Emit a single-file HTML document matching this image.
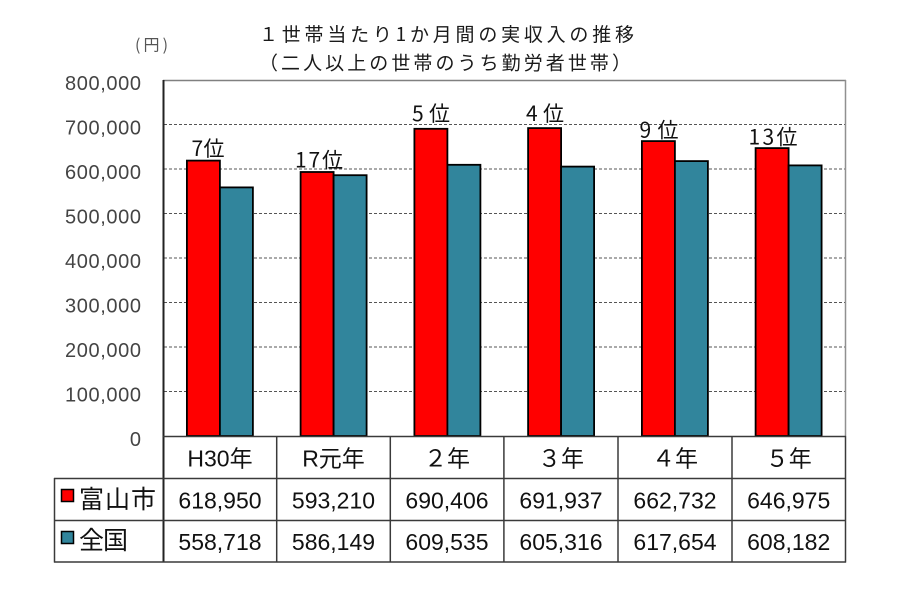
<!DOCTYPE html>
<html><head><meta charset="utf-8"><style>
html,body{margin:0;padding:0;background:#fff;}
svg{display:block;}
text{font-family:"Liberation Sans","Noto Sans CJK JP",sans-serif;}
.cjk{font-family:"Noto Sans CJK JP","Liberation Sans",sans-serif;}
</style></head><body>
<svg width="912" height="602" viewBox="0 0 912 602" xmlns="http://www.w3.org/2000/svg">
<rect width="912" height="602" fill="#fff"/>
<!-- title -->
<text class="cjk" x="259" y="41" font-size="19" fill="#1a1a1a" textLength="375" lengthAdjust="spacing">１世帯当たり1か月間の実収入の推移</text>
<text class="cjk" x="259" y="69.5" font-size="19" fill="#1a1a1a" textLength="372" lengthAdjust="spacing">（二人以上の世帯のうち勤労者世帯）</text>
<text class="cjk" x="135" y="50.5" font-size="16" fill="#555" textLength="33" lengthAdjust="spacing">(円)</text>
<!-- y labels -->
<g font-size="20" fill="#444" text-anchor="end">
<text x="141" y="90" textLength="76" lengthAdjust="spacing">800,000</text>
<text x="141" y="134.5" textLength="76" lengthAdjust="spacing">700,000</text>
<text x="141" y="179" textLength="76" lengthAdjust="spacing">600,000</text>
<text x="141" y="223.5" textLength="76" lengthAdjust="spacing">500,000</text>
<text x="141" y="268" textLength="76" lengthAdjust="spacing">400,000</text>
<text x="141" y="312.5" textLength="76" lengthAdjust="spacing">300,000</text>
<text x="141" y="357" textLength="76" lengthAdjust="spacing">200,000</text>
<text x="141" y="401.5" textLength="76" lengthAdjust="spacing">100,000</text>
<text x="141" y="446">0</text>
</g>
<!-- gridlines -->
<g stroke="#555" stroke-width="1" stroke-dasharray="3,2">
<line x1="164" y1="124.5" x2="845" y2="124.5"/>
<line x1="164" y1="169" x2="845" y2="169"/>
<line x1="164" y1="213.5" x2="845" y2="213.5"/>
<line x1="164" y1="258" x2="845" y2="258"/>
<line x1="164" y1="302.5" x2="845" y2="302.5"/>
<line x1="164" y1="347" x2="845" y2="347"/>
<line x1="164" y1="391.5" x2="845" y2="391.5"/>
</g>
<!-- plot border -->
<line x1="163" y1="80.5" x2="846" y2="80.5" stroke="#808080" stroke-width="1.5"/>
<line x1="845.5" y1="80" x2="845.5" y2="436" stroke="#909090" stroke-width="1.5"/>
<!-- bars -->
<g stroke="#000" stroke-width="1.8">
<rect x="186.9" y="160.6" width="33" height="275.4" fill="#ff0000"/>
<rect x="219.9" y="187.4" width="33" height="248.6" fill="#31859c"/>
<rect x="300.6" y="172.0" width="33" height="264.0" fill="#ff0000"/>
<rect x="333.6" y="175.2" width="33" height="260.8" fill="#31859c"/>
<rect x="414.4" y="128.8" width="33" height="307.2" fill="#ff0000"/>
<rect x="447.4" y="164.8" width="33" height="271.2" fill="#31859c"/>
<rect x="528.1" y="128.1" width="33" height="307.9" fill="#ff0000"/>
<rect x="561.1" y="166.6" width="33" height="269.4" fill="#31859c"/>
<rect x="641.9" y="141.1" width="33" height="294.9" fill="#ff0000"/>
<rect x="674.9" y="161.1" width="33" height="274.9" fill="#31859c"/>
<rect x="755.6" y="148.1" width="33" height="287.9" fill="#ff0000"/>
<rect x="788.6" y="165.4" width="33" height="270.6" fill="#31859c"/>
</g>
<!-- rank labels -->
<g font-size="21" fill="#111" text-anchor="middle">
<text class="cjk" x="208" y="156" textLength="33" lengthAdjust="spacing">7位</text>
<text class="cjk" x="319" y="167.5" textLength="48" lengthAdjust="spacing">17位</text>
<text class="cjk" x="431" y="121" textLength="38" lengthAdjust="spacing">5位</text>
<text class="cjk" x="545" y="121" textLength="38" lengthAdjust="spacing">4位</text>
<text class="cjk" x="659" y="137.5" textLength="39" lengthAdjust="spacing">9位</text>
<text class="cjk" x="773" y="144.5" textLength="49" lengthAdjust="spacing">13位</text>
</g>
<!-- axis -->
<line x1="163.5" y1="80" x2="163.5" y2="562" stroke="#222" stroke-width="2"/>
<!-- table grid -->
<g stroke="#3a3a3a" stroke-width="1.5" fill="none">
<line x1="163" y1="436.5" x2="846" y2="436.5"/>
<line x1="54" y1="478.5" x2="846" y2="478.5"/>
<line x1="54" y1="520.5" x2="846" y2="520.5"/>
<line x1="54" y1="562" x2="846" y2="562"/>
<line x1="54.5" y1="478" x2="54.5" y2="562.5"/>
<line x1="276.7" y1="436" x2="276.7" y2="562.5"/>
<line x1="390.3" y1="436" x2="390.3" y2="562.5"/>
<line x1="503.9" y1="436" x2="503.9" y2="562.5"/>
<line x1="618" y1="436" x2="618" y2="562.5"/>
<line x1="732" y1="436" x2="732" y2="562.5"/>
<line x1="845.5" y1="436" x2="845.5" y2="562.5"/>
</g>
<!-- header -->
<g font-size="23" fill="#111" text-anchor="middle">
<text x="220" y="466.5">H30年</text>
<text x="333.5" y="466.5">R元年</text>
<text x="447" y="466.5">２年</text>
<text x="561" y="466.5">３年</text>
<text x="675" y="466.5">４年</text>
<text x="788.7" y="466.5">５年</text>
<text x="220" y="508.5">618,950</text>
<text x="333.5" y="508.5">593,210</text>
<text x="447" y="508.5">690,406</text>
<text x="561" y="508.5">691,937</text>
<text x="675" y="508.5">662,732</text>
<text x="788.7" y="508.5">646,975</text>
<text x="220" y="550">558,718</text>
<text x="333.5" y="550">586,149</text>
<text x="447" y="550">609,535</text>
<text x="561" y="550">605,316</text>
<text x="675" y="550">617,654</text>
<text x="788.7" y="550">608,182</text>
</g>
<!-- legend -->
<rect x="61.5" y="489.5" width="12" height="12" fill="#ff0000" stroke="#000" stroke-width="1.5"/>
<rect x="61.5" y="531.5" width="12" height="12" fill="#31859c" stroke="#000" stroke-width="1.5"/>
<text class="cjk" x="79" y="508" font-size="25" fill="#111" textLength="77" lengthAdjust="spacing">富山市</text>
<text class="cjk" x="79" y="549" font-size="25" fill="#111" textLength="49" lengthAdjust="spacing">全国</text>
</svg>
</body></html>
